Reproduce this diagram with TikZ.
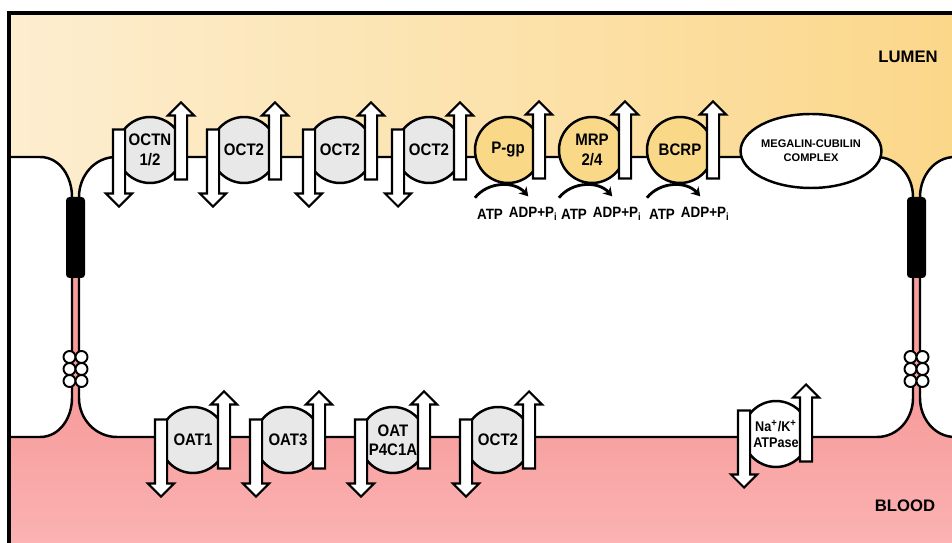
\documentclass[tikz,border=0pt]{standalone}
\usepackage{fontspec}
\setmainfont{Liberation Sans}
\newfontfamily\labelfont[FakeStretch=0.9]{Liberation Sans}
\usetikzlibrary{
    shapes.geometric,
    shapes.arrows,
    arrows.meta,
    positioning,
    calc,
}
\definecolor{lumenlight}{RGB}{253,238,208}
\definecolor{lumendark}{RGB}{251,215,138}
\definecolor{bloodtop}{RGB}{247,156,156}
\definecolor{bloodbottom}{RGB}{252,184,184}
\definecolor{carriergrey}{RGB}{232,232,232}
\definecolor{pumpyellow}{RGB}{249,216,136}
\newcommand{\carriersize}{1.32cm}
\newcommand{\arrowlength}{1.54cm}
\newcommand{\arrowhead}{0.48cm}
\newcommand{\membranewidth}{1.4pt}
\tikzstyle{cellwall} = [draw, fill=white, line width=\membranewidth]
\tikzstyle{junction} = [fill=black, rounded corners=2pt]
\tikzstyle{desmosome} = [draw, fill=white, line width=1.1pt]
\tikzstyle{carrier} = [
  draw,
  shape=circle,
  fill=carriergrey,
  line width=\membranewidth,
  minimum size=\carriersize,
  inner sep=0pt,
  align=center,
  font=\labelfont\bfseries\fontsize{9.5}{11}\selectfont,
]
\tikzstyle{pump} = [carrier, fill=pumpyellow]
\tikzstyle{flux} = [
  draw,
  shape=single arrow,
  fill=white,
  line width=1.2pt,
  minimum height=\arrowlength,
  minimum width=\arrowhead,
  single arrow head extend=0.14cm,
  single arrow tip angle=90,
  inner sep=0.1cm,
]
\tikzstyle{uparrow} = [flux, shape border rotate=90]
\tikzstyle{downarrow} = [flux, shape border rotate=270]
\tikzstyle{energy} = [inner sep=1pt, font=\labelfont\bfseries\fontsize{8.5}{10}\selectfont]
\tikzstyle{hydrolysis} = [-{Stealth[length=5pt,width=6pt]}, line width=1.6pt]
\tikzstyle{sidelabel} = [font=\bfseries\fontsize{9.5}{11}\selectfont]

\begin{document}
\begin{tikzpicture}[x=0.02cm, y=-0.02cm]
    \useasboundingbox (0,0) rectangle (952,543);
    \clip (0,0) rectangle (952,543);

    % lumen and blood side
    \shade[left color=lumenlight, right color=lumendark] (9,13) rectangle (952,240);
    \fill[bloodtop] (9,240) rectangle (952,437);
    \shade[top color=bloodtop, bottom color=bloodbottom] (9,400) rectangle (952,580);

    % the three cells
    \path[cellwall] (9,157) -- (40,157) to[out=0,in=90] (72,197) -- (72,398)
      to[out=270,in=0] (40,437) -- (9,437) -- cycle;
    \path[cellwall] (79,197) to[out=90,in=180] (116,157) -- (876,157)
      to[out=0,in=90] (913,197) -- (913,398) to[out=270,in=0] (877,437)
      -- (117,437) to[out=180,in=270] (79,398) -- cycle;
    \path[cellwall] (920,197) to[out=90,in=180] (955,157) -- (970,157)
      -- (970,437) -- (955,437) to[out=180,in=270] (920,398) -- cycle;

    % tight junctions and desmosomes
    \path[junction] (66,197) rectangle (85,278);
    \path[junction] (907,197) rectangle (926,278);
    \foreach \dy in {357,369,381} {
      \foreach \dx in {69.5,81.5,910.5,922.5}
        \draw[desmosome] (\dx,\dy) circle[radius=0.12cm];
    }

    % frame
    \draw[line width=1.8pt] (9,543) -- (9,13) -- (952,13);

    \node[sidelabel] (lumen) at (908,57) {LUMEN};
    \node[sidelabel] (blood) at (905,506) {BLOOD};

    % apical membrane
    \node[carrier] (octn) at (150,150) {OCTN\\1/2};
    \node[carrier] (octa) at (244,150) {OCT2};
    \node[carrier] (octb) at (340,150) {OCT2};
    \node[carrier] (octc) at (429,150) {OCT2};
    \node[pump] (pgp) at (508,150) {P-gp};
    \node[pump] (mrp) at (592,150) {MRP\\2/4};
    \node[pump] (bcrp) at (680,150) {BCRP};
    \node[draw, ellipse, fill=white, line width=\membranewidth,
      minimum width=2.64cm, minimum height=1.48cm, inner sep=0pt, align=center,
      font=\bfseries\fontsize{6.3}{8}\selectfont]
      (megalin) at (811,151) {MEGALIN-CUBILIN\\COMPLEX};

    \node[downarrow] (octnin) at ($(octn)+(-31,15)$) {};
    \node[uparrow] (octnout) at ($(octn)+(31,-6)$) {};
    \node[downarrow] (octain) at ($(octa)+(-31,15)$) {};
    \node[uparrow] (octaout) at ($(octa)+(31,-6)$) {};
    \node[downarrow] (octbin) at ($(octb)+(-31,15)$) {};
    \node[uparrow] (octbout) at ($(octb)+(31,-6)$) {};
    \node[downarrow] (octcin) at ($(octc)+(-31,15)$) {};
    \node[uparrow] (octcout) at ($(octc)+(31,-6)$) {};
    \node[uparrow] (pgpout) at ($(pgp)+(31,-7)$) {};
    \node[uparrow] (mrpout) at ($(mrp)+(33,-7)$) {};
    \node[uparrow] (bcrpout) at ($(bcrp)+(33,-7)$) {};

    % ATP driven efflux
    \node[energy] (pgpatp) at ($(pgp)+(-18,64)$) {ATP};
    \node[energy, right=1pt of pgpatp] (pgpadp) {ADP+P\textsubscript{i}};
    \node[energy] (mrpatp) at ($(mrp)+(-18,64)$) {ATP};
    \node[energy, right=1pt of mrpatp] (mrpadp) {ADP+P\textsubscript{i}};
    \node[energy] (bcrpatp) at ($(bcrp)+(-18,64)$) {ATP};
    \node[energy, right=1pt of bcrpatp] (bcrpadp) {ADP+P\textsubscript{i}};
    \draw[hydrolysis] ($(pgpatp.north west)+(0,-9)$) to[bend left=50] ($(pgpadp.north)+(-5,-9)$);
    \draw[hydrolysis] ($(mrpatp.north west)+(0,-9)$) to[bend left=50] ($(mrpadp.north)+(-5,-9)$);
    \draw[hydrolysis] ($(bcrpatp.north west)+(0,-9)$) to[bend left=50] ($(bcrpadp.north)+(-5,-9)$);

    % basolateral membrane
    \node[carrier] (oata) at (193,440) {OAT1};
    \node[carrier] (oatb) at (288,440) {OAT3};
    \node[carrier] (oatp) at (393,440) {OAT\\P4C1A};
    \node[carrier] (octd) at (498,440) {OCT2};
    \node[carrier, fill=white, font=\labelfont\bfseries\fontsize{8}{9.5}\selectfont]
      (nak) at (776,434) {Na\textsuperscript{+}/K\textsuperscript{+}\\ATPase};

    \node[downarrow] (oatain) at ($(oata)+(-32,15)$) {};
    \node[uparrow] (oataout) at ($(oata)+(31,-7)$) {};
    \node[downarrow] (oatbin) at ($(oatb)+(-32,15)$) {};
    \node[uparrow] (oatbout) at ($(oatb)+(31,-7)$) {};
    \node[downarrow] (oatpin) at ($(oatp)+(-32,15)$) {};
    \node[uparrow] (oatpout) at ($(oatp)+(31,-7)$) {};
    \node[downarrow] (octdin) at ($(octd)+(-32,15)$) {};
    \node[uparrow] (octdout) at ($(octd)+(31,-7)$) {};
    \node[downarrow] (nakin) at ($(nak)+(-32,12)$) {};
    \node[uparrow] (nakout) at ($(nak)+(30,-8)$) {};
\end{tikzpicture}
\end{document}
